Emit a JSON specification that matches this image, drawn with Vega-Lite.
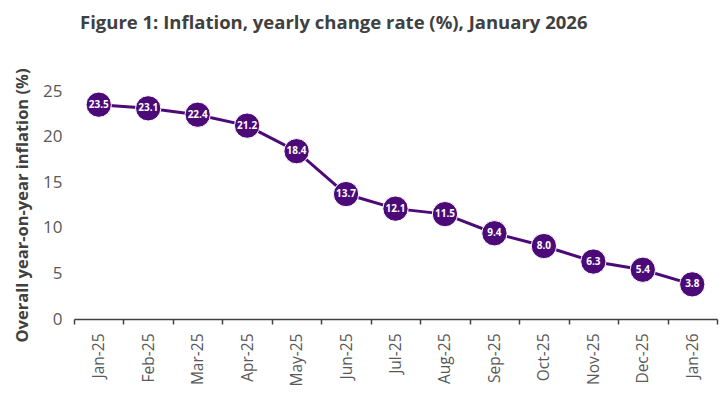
{
  "$schema": "https://vega.github.io/schema/vega-lite/v6.json",
  "autosize": "none",
  "width": 643,
  "height": 228,
  "padding": {"left": 74, "top": 91, "right": 11, "bottom": 79},
  "background": "white",
  "title": {
    "text": "Figure 1: Inflation, yearly change rate (%), January 2026",
    "font": "Open Sans",
    "fontSize": 18.5,
    "fontWeight": "bold",
    "color": "#404040",
    "anchor": "start",
    "frame": "group",
    "dx": 6,
    "offset": 35
  },
  "config": {
    "view": {"stroke": null},
    "font": "Open Sans"
  },
  "data": {
    "values": [
      {"month": "Jan-25", "v": 23.5},
      {"month": "Feb-25", "v": 23.1},
      {"month": "Mar-25", "v": 22.4},
      {"month": "Apr-25", "v": 21.2},
      {"month": "May-25", "v": 18.4},
      {"month": "Jun-25", "v": 13.7},
      {"month": "Jul-25", "v": 12.1},
      {"month": "Aug-25", "v": 11.5},
      {"month": "Sep-25", "v": 9.4},
      {"month": "Oct-25", "v": 8.0},
      {"month": "Nov-25", "v": 6.3},
      {"month": "Dec-25", "v": 5.4},
      {"month": "Jan-26", "v": 3.8}
    ]
  },
  "encoding": {
    "x": {
      "field": "month",
      "type": "ordinal",
      "sort": null,
      "scale": {"paddingInner": 0, "paddingOuter": 0},
      "axis": {
        "title": null,
        "labelAngle": -90,
        "labelFontSize": 15.5,
        "labelColor": "#595959",
        "labelPadding": 9,
        "tickBand": "extent",
        "tickSize": 5,
        "tickColor": "#404040",
        "tickWidth": 1.5,
        "domainColor": "#404040",
        "domainWidth": 1.5
      }
    },
    "y": {
      "field": "v",
      "type": "quantitative",
      "scale": {"domain": [0, 25], "nice": false},
      "axis": {
        "values": [0, 5, 10, 15, 20, 25],
        "title": "Overall year-on-year inflation (%)",
        "titleFontSize": 16.5,
        "titleFontWeight": "bold",
        "titleColor": "#404040",
        "titlePadding": 12,
        "labelFontSize": 17,
        "labelColor": "#595959",
        "labelPadding": 12,
        "domain": false,
        "ticks": false,
        "grid": false
      }
    }
  },
  "layer": [
    {"mark": {"type": "line", "color": "#4B0A78", "strokeWidth": 3}},
    {"mark": {"type": "circle", "color": "#4B0A78", "opacity": 1, "size": 640, "stroke": "white", "strokeWidth": 1}},
    {
      "mark": {"type": "text", "color": "white", "fontSize": 10, "fontWeight": "bold"},
      "encoding": {"text": {"field": "v", "type": "quantitative", "format": ".1f"}}
    }
  ]
}
